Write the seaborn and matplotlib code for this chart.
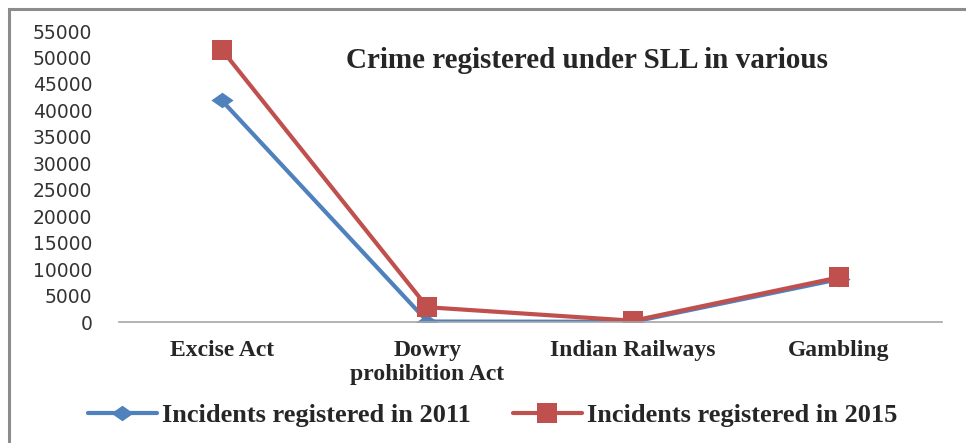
import pandas as pd
import seaborn as sns
import matplotlib.pyplot as plt
from matplotlib.patches import Rectangle

# --- dados ---
categories = ['Excise Act', 'Dowry\nprohibition Act', 'Indian Railways', 'Gambling']
incidents_2011 = [41900, 100, 50, 8100]
incidents_2015 = [51500, 2800, 250, 8450]
series_labels = ['Incidents registered in 2011', 'Incidents registered in 2015']
y_ticks = list(range(0, 55001, 5000))

df = pd.DataFrame({
    'category': categories * 2,
    'value': incidents_2011 + incidents_2015,
    'series': [series_labels[0]] * 4 + [series_labels[1]] * 4,
})

sns.set_theme(style='white')
plt.rcParams['font.family'] = ['Liberation Serif', 'DejaVu Sans']

fig = plt.figure(figsize=(9.66, 4.43), dpi=100)
ax = fig.add_axes([0.123, 0.273, 0.852, 0.657])

palette = {series_labels[0]: '#4F81BD', series_labels[1]: '#C0504D'}
# losango achatado, como no original
diamond = [(-1, 0), (0, 0.7), (1, 0), (0, -0.7), (-1, 0)]
markers = {series_labels[0]: diamond, series_labels[1]: 's'}
sizes = {series_labels[0]: 16, series_labels[1]: 15}

for s in series_labels:
    sub = df[df['series'] == s]
    sns.lineplot(data=sub, x='category', y='value', ax=ax, color=palette[s],
                 marker=markers[s], markersize=sizes[s], markeredgewidth=0,
                 linewidth=3, label=s, sort=False)

ax.set_xlim(-0.5, 3.5)
ax.set_ylim(0, 55000)
ax.set_yticks(y_ticks)
ax.set_yticklabels([str(t) for t in y_ticks], family='DejaVu Sans', fontsize=13.5,
                   color='#333333')
ax.tick_params(axis='y', length=0, pad=19)
ax.tick_params(axis='x', length=0, pad=13)
ax.set_xticks(range(len(categories)))
ax.set_xticklabels(categories, fontweight='bold', fontsize=17, linespacing=1.2)
ax.set_xlabel('')
ax.set_ylabel('')

for side in ['top', 'right', 'left']:
    ax.spines[side].set_visible(False)
ax.spines['bottom'].set_color('#A6A6A6')
ax.spines['bottom'].set_linewidth(1.2)

ax.text(0.569, 0.90, 'Crime registered under SLL in various', transform=ax.transAxes,
        ha='center', va='center', fontsize=21, fontweight='bold')

leg = ax.legend(loc='center', bbox_to_anchor=(0.51, 0.063), bbox_transform=fig.transFigure,
                ncol=2, frameon=False, prop={'weight': 'bold', 'size': 19},
                handlelength=2.6, columnspacing=1.6, handletextpad=0.2)

# moldura externa (direita e base ficam fora da imagem)
fig.patches.append(Rectangle((0.0095, -0.1), 1.2, 1.08, transform=fig.transFigure,
                             fill=False, edgecolor='#8C8C8C', linewidth=2.2))

plt.savefig('out.png', dpi=100)
plt.close()
